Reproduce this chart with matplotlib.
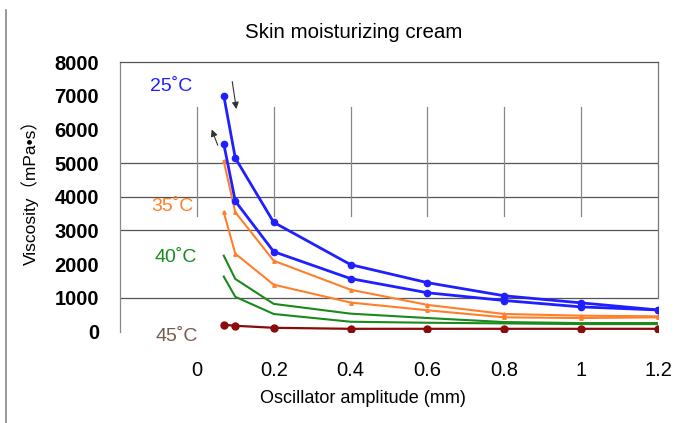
import matplotlib
matplotlib.use("Agg")
import matplotlib.pyplot as plt
from matplotlib.lines import Line2D

# amplitude (mm) and viscosity (mPa*s), up and down sweeps
amplitude = [0.07, 0.1, 0.2, 0.4, 0.6, 0.8, 1.0, 1.2]
visc_25_a = [7000, 5150, 3240, 1985, 1450, 1060, 850, 640]
visc_25_b = [5570, 3870, 2370, 1570, 1150, 920, 730, 640]
visc_35_a = [5060, 3540, 2100, 1240, 790, 520, 470, 450]
visc_35_b = [3540, 2310, 1390, 860, 630, 420, 400, 420]
visc_40_a = [2250, 1560, 820, 530, 400, 280, 250, 250]
visc_40_b = [1630, 1030, 520, 290, 260, 240, 220, 220]
visc_45 = [200, 170, 110, 80, 80, 80, 80, 80]

x_ticks = [0, 0.2, 0.4, 0.6, 0.8, 1.0, 1.2]
x_tick_labels = ["0", "0.2", "0.4", "0.6", "0.8", "1", "1.2"]
y_ticks = [0, 1000, 2000, 3000, 4000, 5000, 6000, 7000, 8000]
grid_y = [1000, 3000, 4000, 5000]
grid_x = [0, 0.2, 0.4, 0.6, 0.8, 1.0]

temp_labels = ["25˚C", "35˚C", "40˚C", "45˚C"]
label_pos = [(-0.068, 7270), (-0.065, 3710), (-0.055, 2200), (-0.052, -135)]
label_colors = ["#1f1fff", "#ff7f2a", "#1a8a1a", "#7a5a4c"]

# sweep direction arrows: (start, end)
arrows = [((0.091, 7500), (0.104, 6520)), ((0.057, 5450), (0.036, 6075))]

FONT = ["Liberation Sans", "DejaVu Sans"]
plt.rcParams["font.family"] = FONT

fig = plt.figure(figsize=(6.82, 4.23), dpi=100)
ax = fig.add_axes([120 / 682, 1 - 331.5 / 423, 538 / 682, 269.5 / 423])

ax.set_xlim(-0.2, 1.2)
ax.set_ylim(0, 8000)

# partial grid lines like the original
for gy in grid_y:
    ax.axhline(gy, color="#555555", lw=0.9, zorder=1)
for gx in grid_x:
    ax.plot([gx, gx], [3420, 6660], color="#888888", lw=0.9, zorder=1)
ax.plot([1.2, 1.2], [1000, 8000], color="#777777", lw=0.9, zorder=1, clip_on=False)

blue, orange, green, red = "#1f1fff", "#ff7f2a", "#1a8a1a", "#8b0a0a"
ax.plot(amplitude, visc_25_a, color=blue, lw=2, marker="o", ms=4.5, zorder=5)
ax.plot(amplitude, visc_25_b, color=blue, lw=2, marker="o", ms=4.5, zorder=5)
ax.plot(amplitude, visc_35_a, color=orange, lw=1.5, marker="^", ms=2.5, zorder=4)
ax.plot(amplitude, visc_35_b, color=orange, lw=1.5, marker="^", ms=2.5, zorder=4)
ax.plot(amplitude, visc_40_a, color=green, lw=1.5, zorder=3)
ax.plot(amplitude, visc_40_b, color=green, lw=1.5, zorder=3)
ax.plot(amplitude, visc_45, color=red, lw=1.6, marker="o", ms=5, zorder=6)

for txt, (lx, ly), c in zip(temp_labels, label_pos, label_colors):
    ax.text(lx, ly, txt, color=c, fontsize=14, ha="center", va="center", clip_on=False)

for (sx, sy), (ex, ey) in arrows:
    ax.annotate("", xy=(ex, ey), xytext=(sx, sy),
                arrowprops=dict(arrowstyle="-|>", color="#333333", lw=0.8,
                                mutation_scale=10))

ax.set_xticks(x_ticks)
ax.set_xticklabels(x_tick_labels, fontsize=14.5)
ax.set_yticks(y_ticks)
ax.set_yticklabels([str(v) for v in y_ticks], fontsize=14.5, fontweight="bold")
ax.tick_params(axis="x", length=0, pad=21)
ax.tick_params(axis="y", length=0, pad=15)

for side in ["right", "bottom"]:
    ax.spines[side].set_visible(False)
ax.spines["top"].set_color("#555555")
ax.spines["left"].set_color("#888888")
ax.spines["top"].set_linewidth(0.9)
ax.spines["left"].set_linewidth(0.9)

fig.text(354 / 682, 1 - 32 / 423, "Skin moisturizing cream", fontsize=14.8,
         ha="center", va="center")
fig.text(363 / 682, 1 - 398 / 423, "Oscillator amplitude (mm)", fontsize=13,
         ha="center", va="center")
fig.text(30 / 682, 1 - 188 / 423, "Viscosity（mPa•s）", fontsize=12.5, rotation=90,
         ha="center", va="center", family=["Liberation Sans", "Noto Sans CJK JP"])

# left border of the scanned figure
fig.add_artist(Line2D([6 / 682, 6 / 682], [0, 1 - 10 / 423], color="#888888", lw=1.2))

fig.savefig("out.png", dpi=100)
